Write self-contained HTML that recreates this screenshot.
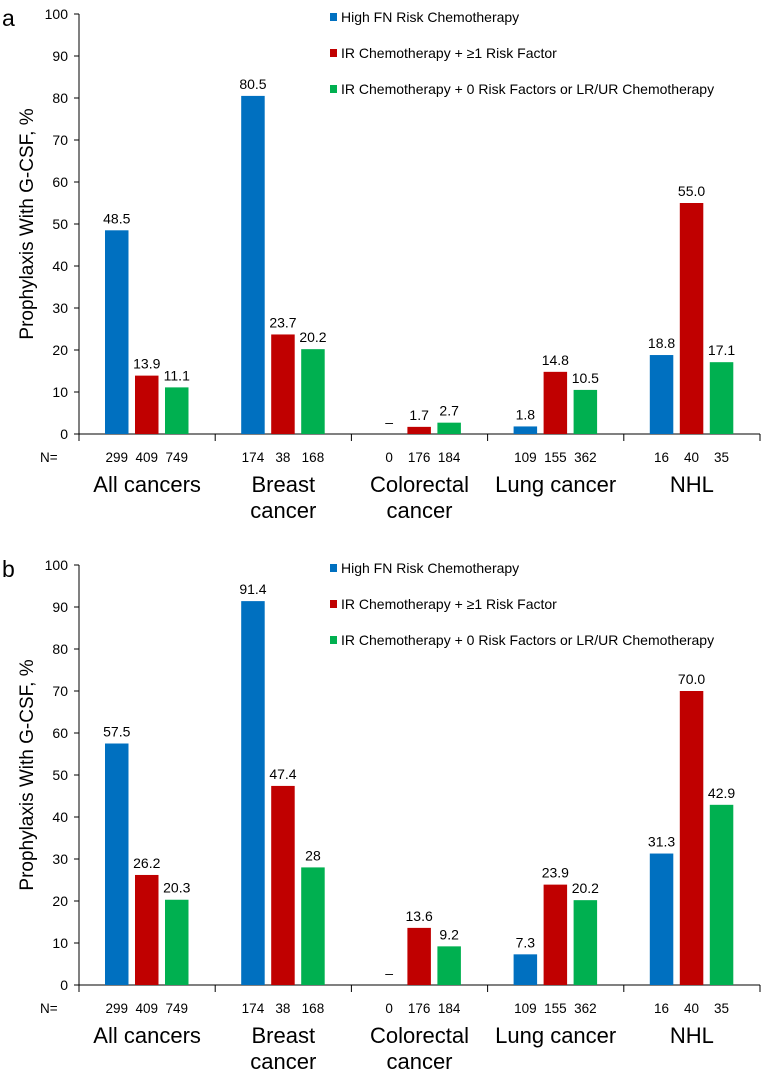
<!DOCTYPE html>
<html><head><meta charset="utf-8"><style>
html,body{margin:0;padding:0;background:#fff;}
svg{display:block;font-family:"Liberation Sans",Arial,sans-serif;}
</style></head><body>
<svg id="chart" width="762" height="1071" viewBox="0 0 762 1071" xmlns="http://www.w3.org/2000/svg"></svg>
<script>
const categories = [["All cancers"],["Breast","cancer"],["Colorectal","cancer"],["Lung cancer"],["NHL"]];
const seriesNames = ["High FN Risk Chemotherapy","IR Chemotherapy + \u22651 Risk Factor","IR Chemotherapy + 0 Risk Factors or LR/UR Chemotherapy"];
const panelAHigh = [48.5, 80.5, null, 1.8, 18.8];
const panelAIR1 = [13.9, 23.7, 1.7, 14.8, 55.0];
const panelAIR0 = [11.1, 20.2, 2.7, 10.5, 17.1];
const panelBHigh = [57.5, 91.4, null, 7.3, 31.3];
const panelBIR1 = [26.2, 47.4, 13.6, 23.9, 70.0];
const panelBIR0 = [20.3, 28, 9.2, 20.2, 42.9];
const printA = [["48.5","13.9","11.1"],["80.5","23.7","20.2"],["\u2013","1.7","2.7"],["1.8","14.8","10.5"],["18.8","55.0","17.1"]];
const printB = [["57.5","26.2","20.3"],["91.4","47.4","28"],["\u2013","13.6","9.2"],["7.3","23.9","20.2"],["31.3","70.0","42.9"]];
const nCounts = [[299,409,749],[174,38,168],[0,176,184],[109,155,362],[16,40,35]];
const yTicks = [0,10,20,30,40,50,60,70,80,90,100];
const colors = ["#0070C0","#C00000","#00B050"];

const NS="http://www.w3.org/2000/svg";
const svg=document.getElementById('chart');
function mk(tag,attrs,parent,text){const e=document.createElementNS(NS,tag);for(const k in attrs)e.setAttribute(k,attrs[k]);if(text!==undefined)e.textContent=text;(parent||svg).appendChild(e);return e;}

const axisX=79, groupW=136.2, barW=23.5, barPitch=30, barOff=26;
function drawPanel(top,label,series,prints,key){
  const y0=top+420, yScale=v=>y0-v*4.2;
  const xGroup=i=>axisX+i*groupW;
  const g=mk('g',{});
  
  
  const pl=mk('text',{x:2,y:top+12,'font-size':23,fill:'#000'},g,label);
  
  
  const ya=mk('line',{x1:axisX,y1:yScale(100),x2:axisX,y2:y0+6,stroke:'#000','stroke-width':1},g);
  
  
  yTicks.forEach(t=>{
    mk('line',{x1:axisX-5,y1:yScale(t),x2:axisX,y2:yScale(t),stroke:'#000'},g);
    const tl=mk('text',{x:axisX-11,y:yScale(t)+5,'font-size':14,'text-anchor':'end',fill:'#000'},g,String(t));
    
    
  });
  const yt=mk('text',{x:0,y:0,'font-size':19,'text-anchor':'middle',fill:'#000',transform:`translate(33,${yScale(50)}) rotate(-90)`},g,'Prophylaxis With G-CSF, %');
  
  
  const xa=mk('line',{x1:axisX,y1:y0,x2:axisX+5*groupW,y2:y0,stroke:'#000'},g);
  
  
  for(let i=0;i<=5;i++) mk('line',{x1:xGroup(i),y1:y0,x2:xGroup(i),y2:y0+7,stroke:'#000'},g);
  const nl=mk('text',{x:40,y:y0+28,'font-size':13.5,fill:'#000'},g,'N=');
  
  
  categories.forEach((cat,i)=>{
    series.forEach((s,j)=>{
      const x=xGroup(i)+barOff+j*barPitch;
      const v=s[i];
      if(v!==null){
        const b=mk('rect',{x:x,y:yScale(v),width:barW,height:y0-yScale(v),fill:colors[j]},g);
        
        
      }
      const ly=(v===null?y0:yScale(v))-7;
      const vl=mk('text',{x:x+barW/2,y:ly,'font-size':14,'text-anchor':'middle',fill:'#000'},g,prints[i][j]);
      
      
      const nt=mk('text',{x:x+barW/2,y:y0+28,'font-size':13.5,'text-anchor':'middle',fill:'#000'},g,String(nCounts[i][j]));
      
      
    });
    cat.forEach((line,k)=>{
      const cl=mk('text',{x:xGroup(i)+groupW/2,y:y0+58+k*26,'font-size':22,'text-anchor':'middle',fill:'#000'},g,line);
      
      
    });
  });
  seriesNames.forEach((n,j)=>{
    const ly=top+17+j*36-14;
    const sw=mk('rect',{x:330,y:ly-4,width:7,height:8,fill:colors[j]},g);
    
    
    const lt=mk('text',{x:341,y:ly+5,'font-size':14,fill:'#000'},g,n);
    
    
  });
}
drawPanel(14,'a',[panelAHigh,panelAIR1,panelAIR0],printA,'a');
drawPanel(565,'b',[panelBHigh,panelBIR1,panelBIR0],printB,'b');
</script>
</body></html>
